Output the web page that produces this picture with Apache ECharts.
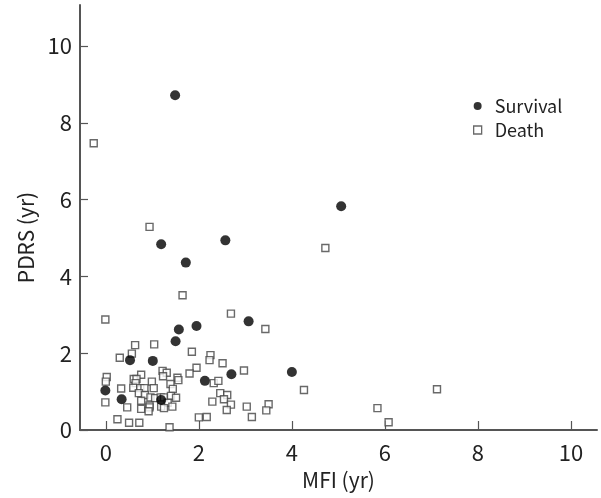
<!DOCTYPE html>
<html>
<head>
<meta charset="utf-8">
<script src="https://cdn.jsdelivr.net/npm/echarts@6/dist/echarts.min.js"></script>
<style>html,body{margin:0;padding:0;background:#fff}#c{width:601px;height:498px}</style>
</head>
<body>
<div id="c"></div>
<script>
const xTicks = [0, 2, 4, 6, 8, 10];
const yTicks = [0, 2, 4, 6, 8, 10];
const seriesNames = ['Survival', 'Death'];

const survivalMFI = [-0.01, 0.34, 0.52, 1.01, 1.19, 1.50, 1.57, 1.95, 2.13, 2.70, 3.07, 4.00, 1.49, 1.19, 1.72, 2.57, 5.06];
const survivalPDRS = [1.03, 0.80, 1.82, 1.80, 0.78, 2.31, 2.62, 2.71, 1.28, 1.45, 2.83, 1.51, 8.72, 4.84, 4.36, 4.94, 5.83];

const deathMFI = [-0.01, 2.69, 0.63, 1.04, 0.56, 0.30, 1.85, 2.25, 2.23, 2.51, 2.97, 1.95, 1.80, 1.54, 1.56, 1.22, 1.31, 0.76, 0.02, 0.00,
  0.60, 0.66, 0.64, 0.99, 1.23, 1.39, 0.59, 0.74, 0.83, 1.03, 1.44, 0.33, 0.71, 0.84, 0.96, 1.06, 1.18, 1.25, 1.40, 1.51,
  0.76, -0.01, 1.33, 1.19, 1.25, 1.43, 0.94, 0.94, 0.76, 0.46, 0.92, 2.32, 2.42, 2.46, 2.61, 2.54, 2.69, 2.60, 2.29, 3.03,
  3.14, 2.00, 2.17, 0.25, 0.50, 0.72, 1.37, 3.43, 4.26, 5.84, 3.50, 3.45, 6.08, 7.12, -0.26, 0.94, 1.65, 4.72];
const deathPDRS = [2.88, 3.03, 2.21, 2.23, 1.99, 1.88, 2.04, 1.95, 1.82, 1.74, 1.55, 1.62, 1.47, 1.36, 1.30, 1.54, 1.49, 1.44, 1.38, 1.26,
  1.33, 1.33, 1.22, 1.26, 1.40, 1.20, 1.10, 1.09, 1.09, 1.09, 1.07, 1.08, 0.96, 0.91, 0.85, 0.83, 0.85, 0.85, 0.89, 0.84,
  0.76, 0.72, 0.71, 0.61, 0.57, 0.61, 0.64, 0.59, 0.55, 0.59, 0.49, 1.22, 1.28, 0.96, 0.91, 0.80, 0.66, 0.52, 0.74, 0.61,
  0.34, 0.33, 0.34, 0.28, 0.19, 0.19, 0.07, 2.63, 1.04, 0.57, 0.67, 0.51, 0.20, 1.06, 7.47, 5.29, 3.51, 4.74];

const survivalData = survivalMFI.map((x, i) => [x, survivalPDRS[i]]);
const deathData = deathMFI.map((x, i) => [x, deathPDRS[i]]);

const FONT = '"Noto Sans CJK KR", "Noto Sans", sans-serif';
const axisColor = '#555';
const textColor = '#222';

const chart = echarts.init(document.getElementById('c'), null, {renderer: 'canvas'});
chart.setOption({
  animation: false,
  backgroundColor: '#fff',
  textStyle: {fontFamily: FONT},
  grid: {left: 80, right: 4, top: 5, bottom: 68, containLabel: false},
  legend: {
    orient: 'vertical',
    left: 468, top: 90,
    itemWidth: 8, itemHeight: 8, itemGap: 2,
    textStyle: {fontFamily: FONT, fontSize: 18, lineHeight: 22, color: textColor, padding: [0, 0, 0, 8]},
    data: [
      {name: seriesNames[0], icon: 'circle', itemStyle: {color: '#000'}},
      {name: seriesNames[1], icon: 'rect', itemStyle: {color: '#fff', borderColor: '#444', borderWidth: 1.3}}
    ]
  },
  xAxis: {
    type: 'value', min: -0.555, max: 10.56,
    name: 'MFI (yr)', nameLocation: 'middle', nameGap: 40,
    nameTextStyle: {fontFamily: FONT, fontSize: 21, color: textColor},
    axisLine: {onZero: false, lineStyle: {color: axisColor, width: 2}},
    axisTick: {inside: true, length: 9, customValues: xTicks, lineStyle: {color: axisColor, width: 1.2}},
    axisLabel: {customValues: xTicks, margin: 12, fontFamily: FONT, fontSize: 22, color: textColor},
    splitLine: {show: false}
  },
  yAxis: {
    type: 'value', min: 0, max: 11.07,
    name: 'PDRS (yr)', nameLocation: 'middle', nameGap: 43,
    nameTextStyle: {fontFamily: FONT, fontSize: 21, color: textColor, padding: [0, 40, 0, 0]},
    axisLine: {onZero: false, lineStyle: {color: axisColor, width: 2}},
    axisTick: {inside: true, length: 8, customValues: yTicks, lineStyle: {color: axisColor, width: 1.2}},
    axisLabel: {customValues: yTicks, margin: 8, fontFamily: FONT, fontSize: 22, color: textColor},
    splitLine: {show: false}
  },
  series: [
    {
      name: seriesNames[1], type: 'scatter', data: deathData,
      symbol: 'rect', symbolSize: 7,
      itemStyle: {color: '#fff', borderColor: '#444', borderWidth: 1.4},
      z: 2
    },
    {
      name: seriesNames[0], type: 'scatter', data: survivalData,
      symbol: 'circle', symbolSize: 10,
      itemStyle: {color: '#000'},
      z: 3
    }
  ]
});
</script>
</body>
</html>
